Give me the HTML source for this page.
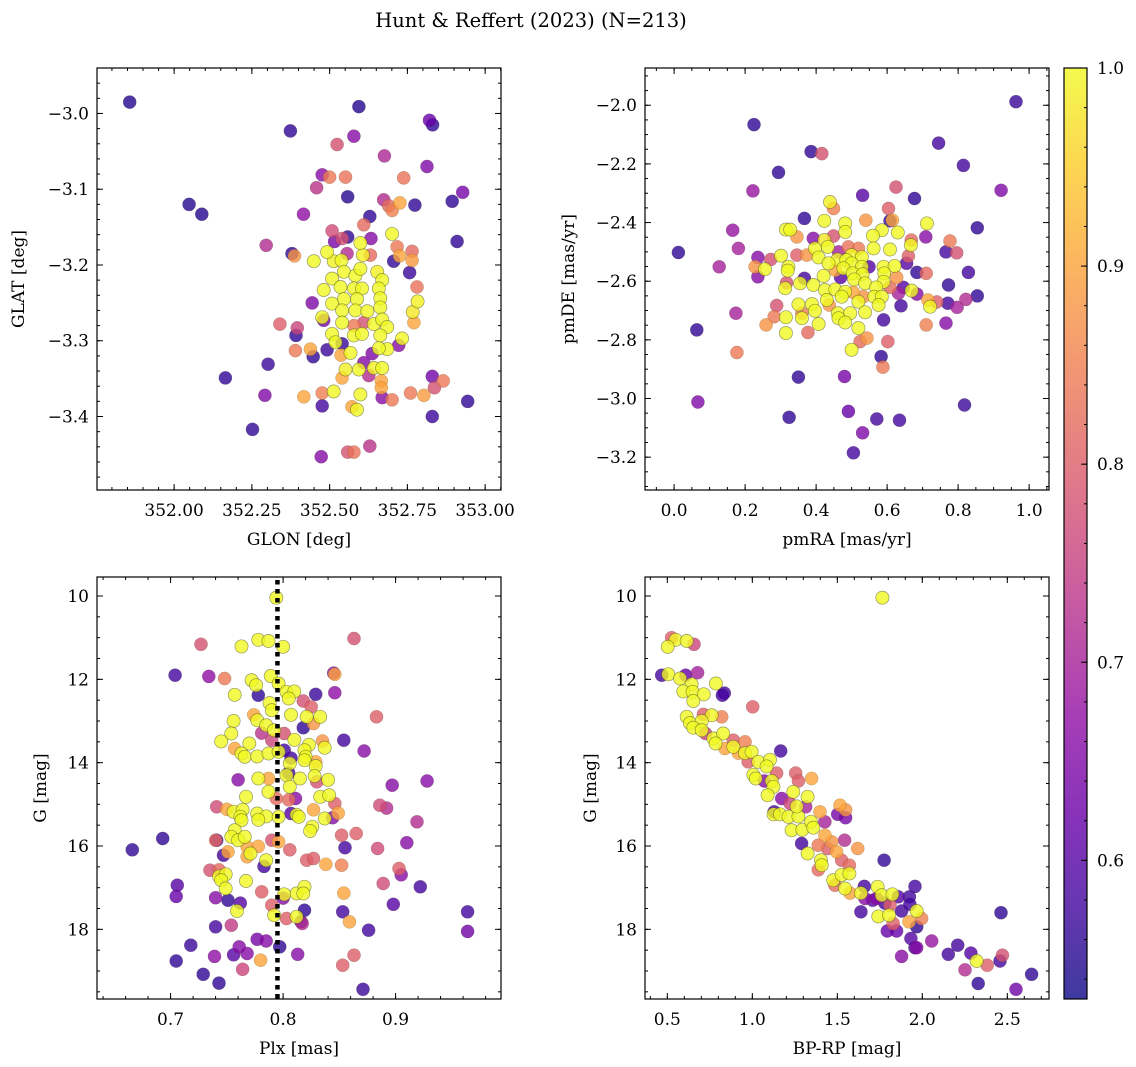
<!DOCTYPE html>
<html><head><meta charset="utf-8"><style>
html,body{margin:0;padding:0;background:#fff;}
svg{display:block;font-family:"DejaVu Serif","Liberation Serif",serif;}
</style></head><body>
<svg id="fig" width="1136" height="1067" viewBox="0 0 1136 1067" xmlns="http://www.w3.org/2000/svg">
<rect width="1136" height="1067" fill="#fff"/>
<text x="531" y="27" font-size="19.5" text-anchor="middle">Hunt &amp; Reffert (2023) (N=213)</text>
</svg>
<script>
// ---- data: [x, y, membership probability] ----
const glonGlat = [
[351.857,-2.985,.55],[352.594,-2.991,.55],[352.374,-3.023,.56],[352.821,-3.009,.62],[352.831,-3.015,.56],[352.578,-3.030,.66],[352.524,-3.041,.78],[352.676,-3.056,.71],[352.813,-3.070,.65],[352.476,-3.081,.66],[352.500,-3.084,.84],[352.551,-3.084,.83],[352.738,-3.085,.83],[352.458,-3.098,.73],[352.558,-3.110,.55],[352.928,-3.104,.64],[352.894,-3.116,.56],[352.048,-3.120,.55],[352.089,-3.133,.55],[352.674,-3.114,.72],[352.690,-3.122,.82],[352.701,-3.128,.85],[352.726,-3.118,.9],[352.774,-3.121,.56],[352.416,-3.133,.67],[352.629,-3.136,.56],[352.610,-3.147,.82],[352.508,-3.155,.77],[352.701,-3.159,1],[352.910,-3.169,.56],[352.296,-3.174,.72],
[352.540,-3.165,.78],[352.558,-3.163,.56],[352.516,-3.169,.64],[352.633,-3.165,.66],[352.379,-3.185,.56],[352.387,-3.188,.88],[352.599,-3.171,1],[352.607,-3.187,.99],[352.631,-3.187,.82],[352.449,-3.195,1],[352.492,-3.183,1],[352.513,-3.195,.99],[352.538,-3.194,1],[352.556,-3.185,.72],[352.717,-3.176,.84],[352.765,-3.182,.82],[352.725,-3.188,.9],[352.765,-3.194,.89],[352.706,-3.195,.56],[352.757,-3.210,.57],[352.781,-3.229,.83],[352.783,-3.248,.99],[352.767,-3.262,.98],[352.771,-3.276,.9],
[352.546,-3.209,1],[352.583,-3.214,1],[352.599,-3.205,1],[352.653,-3.209,.99],[352.508,-3.218,1],[352.669,-3.220,1],[352.535,-3.229,1],[352.578,-3.231,1],[352.604,-3.231,1],[352.658,-3.231,1],[352.481,-3.233,1],[352.546,-3.245,1],[352.588,-3.245,1],[352.663,-3.244,1],[352.508,-3.251,1],[352.540,-3.260,1],[352.583,-3.260,1],[352.621,-3.261,1],[352.663,-3.256,1],[352.476,-3.269,1],[352.540,-3.276,1],[352.642,-3.278,1],[352.669,-3.272,1],[352.685,-3.282,1],[352.508,-3.291,1],[352.578,-3.293,1],[352.604,-3.291,1],[352.663,-3.293,1],[352.519,-3.302,1],[352.733,-3.297,1],[352.685,-3.311,1],[352.567,-3.316,1],[352.658,-3.310,1],
[352.444,-3.250,.65],[352.481,-3.273,.64],[352.396,-3.283,.76],[352.392,-3.293,.56],[352.340,-3.278,.8],[352.390,-3.313,.84],[352.438,-3.311,.9],[352.447,-3.321,.56],[352.492,-3.312,.57],[352.540,-3.304,.57],[352.537,-3.319,.9],[352.637,-3.317,.65],[352.722,-3.306,.66],[352.610,-3.276,.78],[352.578,-3.280,.84],[352.302,-3.331,.57],[352.165,-3.349,.56],[352.292,-3.372,.65],[352.252,-3.417,.56],
[352.610,-3.329,.66],[352.551,-3.338,.99],[352.540,-3.349,.9],[352.594,-3.338,1],[352.626,-3.346,.72],[352.642,-3.336,.99],[352.669,-3.336,1],[352.666,-3.353,.9],[352.666,-3.362,.9],[352.669,-3.375,.66],[352.701,-3.378,.84],[352.417,-3.374,.9],[352.476,-3.369,.85],[352.513,-3.367,1],[352.476,-3.386,.58],[352.599,-3.371,1],[352.572,-3.387,.9],[352.588,-3.391,1],[352.830,-3.347,.63],[352.837,-3.362,.78],[352.865,-3.353,.84],[352.760,-3.369,.84],[352.803,-3.372,.89],[352.944,-3.380,.56],[352.830,-3.400,.57],[352.473,-3.453,.66],[352.558,-3.447,.78],[352.578,-3.447,.83],[352.629,-3.439,.73]
];
const pmraPmde = [
[0.963,-1.988,.57],[0.225,-2.066,.56],[0.745,-2.129,.58],[0.386,-2.158,.56],[0.416,-2.165,.78],[0.815,-2.205,.58],[0.294,-2.229,.56],[0.222,-2.292,.68],[0.921,-2.290,.65],[0.625,-2.279,.78],[0.531,-2.307,.6],[0.677,-2.318,.56],[0.439,-2.330,.99],[0.449,-2.352,.85],[0.367,-2.386,.56],[0.604,-2.352,.8],[0.423,-2.394,1],[0.540,-2.392,.88],[0.482,-2.403,1],[0.615,-2.392,.9],[0.608,-2.394,.56],[0.712,-2.403,1],[0.854,-2.418,.56],[0.315,-2.424,1],[0.327,-2.424,1],[0.165,-2.426,.68],[0.482,-2.432,1],[0.585,-2.426,1],[0.560,-2.445,1],[0.630,-2.434,1],[0.392,-2.454,.66],[0.346,-2.449,.88],[0.449,-2.446,.78],[0.709,-2.449,.66],[0.777,-2.463,.84],[0.668,-2.460,.82],[0.667,-2.477,1],[0.181,-2.488,.7],[0.012,-2.502,.56],[0.766,-2.500,.58],[0.796,-2.503,.78],
[0.423,-2.460,.98],[0.397,-2.488,1],[0.433,-2.483,1],[0.463,-2.500,.7],[0.491,-2.483,.83],[0.519,-2.488,.84],[0.500,-2.511,1],[0.529,-2.517,1],[0.562,-2.488,1],[0.608,-2.492,1],[0.301,-2.513,1],[0.346,-2.511,.8],[0.374,-2.511,.88],[0.407,-2.519,1],[0.460,-2.526,1],[0.485,-2.528,1],[0.435,-2.539,1],[0.500,-2.539,1],[0.529,-2.551,1],[0.549,-2.551,.6],[0.590,-2.551,1],[0.621,-2.548,1],[0.660,-2.514,.8],[0.655,-2.539,.6],[0.272,-2.526,.78],[0.236,-2.519,.66],[0.228,-2.551,.88],[0.256,-2.559,1],[0.127,-2.551,.7],[0.322,-2.551,1],[0.320,-2.564,1],[0.454,-2.562,.9],[0.477,-2.556,1],[0.503,-2.573,1],[0.531,-2.576,1],[0.592,-2.573,1],[0.627,-2.587,.88],[0.684,-2.570,.56],[0.710,-2.573,.82],[0.829,-2.570,.58],[0.236,-2.585,.66],[0.367,-2.590,.58],[0.421,-2.582,1],[0.469,-2.587,.6],[0.507,-2.594,1],[0.538,-2.607,1],[0.590,-2.602,1],[0.317,-2.605,.78],[0.355,-2.607,1],[0.392,-2.613,1],[0.313,-2.624,1],[0.773,-2.613,.56],[0.608,-2.621,.82],[0.569,-2.621,1],[0.646,-2.621,.6],[0.425,-2.630,1],[0.454,-2.628,1],[0.482,-2.636,1],[0.505,-2.638,.9],[0.533,-2.653,.88],[0.564,-2.653,1],[0.585,-2.653,1],[0.430,-2.664,1],[0.472,-2.653,1],[0.632,-2.641,.7],[0.669,-2.632,1],[0.684,-2.644,.66],[0.715,-2.664,.9],[0.740,-2.671,.8],[0.721,-2.687,1],[0.771,-2.675,.58],[0.822,-2.662,.72],[0.854,-2.650,.56],[0.797,-2.689,.7],[0.639,-2.684,.58],[0.576,-2.681,1],[0.437,-2.681,.88],[0.519,-2.670,1],[0.350,-2.679,1],[0.388,-2.678,1],[0.289,-2.683,.78],[0.360,-2.709,.85],[0.397,-2.701,1],[0.360,-2.726,1],[0.461,-2.709,1],[0.496,-2.709,1],[0.538,-2.706,1],[0.463,-2.726,1],[0.482,-2.741,1],[0.174,-2.709,.7],[0.282,-2.721,.84],[0.315,-2.723,1],[0.259,-2.749,.88],[0.407,-2.746,1],[0.590,-2.732,.58],[0.710,-2.749,.85],[0.766,-2.743,.66],[0.064,-2.766,.56],[0.519,-2.760,1],[0.315,-2.777,1],[0.377,-2.775,.82],[0.543,-2.794,.88],[0.524,-2.806,.82],[0.602,-2.806,.8],[0.500,-2.834,1],[0.583,-2.857,.56],[0.177,-2.843,.84],[0.588,-2.893,.84],[0.350,-2.927,.56],[0.480,-2.925,.64],[0.067,-3.012,.65],[0.818,-3.022,.57],[0.324,-3.064,.56],[0.491,-3.044,.62],[0.571,-3.070,.58],[0.635,-3.074,.58],[0.531,-3.117,.65],[0.505,-3.185,.58]
];
const plxG = [
[0.794,10.04,1],[0.863,11.02,.78],[0.727,11.16,.78],[0.763,11.21,1],[0.778,11.05,1],[0.787,11.08,1],[0.800,11.22,1],[0.704,11.90,.58],[0.734,11.93,.67],[0.748,11.98,.84],[0.845,11.85,.66],[0.846,11.88,.9],[0.772,12.02,1],[0.776,12.14,1],[0.789,11.92,1],[0.796,12.10,1],[0.803,12.30,1],[0.810,12.29,1],[0.805,12.46,1],[0.757,12.37,1],[0.778,12.38,.56],[0.829,12.36,.57],[0.846,12.32,.67],[0.788,12.57,1],[0.790,12.74,1],[0.818,12.52,.78],[0.825,12.66,.8],[0.774,12.85,.9],[0.777,12.98,1],[0.756,13.00,1],[0.807,12.85,1],[0.821,12.90,1],[0.833,12.90,1],[0.827,13.06,.88],[0.883,12.90,.8],[0.818,13.16,.56],[0.785,13.10,1],[0.792,13.22,1],[0.781,13.29,.73],[0.790,13.46,.76],[0.801,13.30,.78],[0.754,13.30,1],[0.745,13.49,1],[0.770,13.54,1],[0.810,13.45,1],[0.823,13.57,1],[0.835,13.48,.88],[0.837,13.64,1],[0.854,13.46,.58],[0.872,13.72,.66],
[0.757,13.66,.9],[0.763,13.78,1],[0.766,13.86,1],[0.777,13.85,1],[0.787,13.78,1],[0.796,13.74,1],[0.801,13.70,.58],[0.807,13.89,.58],[0.806,14.02,1],[0.819,13.70,1],[0.820,13.86,1],[0.819,13.94,1],[0.829,13.98,.9],[0.829,14.08,1],[0.760,14.41,.66],[0.778,14.38,1],[0.787,14.38,.9],[0.803,14.30,1],[0.805,14.25,.58],[0.815,14.38,1],[0.828,14.32,1],[0.840,14.41,1],[0.830,14.46,.78],[0.787,14.70,1],[0.806,14.58,1],[0.767,14.82,1],[0.794,14.86,.82],[0.805,14.89,.82],[0.811,14.86,.66],[0.833,14.82,1],[0.841,14.78,1],[0.846,14.98,.8],[0.741,15.06,.77],[0.750,15.12,.9],[0.756,15.18,1],[0.764,15.13,1],[0.762,15.30,1],[0.763,15.38,1],[0.777,15.22,1],[0.785,15.29,1],[0.778,15.37,1],[0.796,15.30,1],[0.807,15.22,.6],[0.812,15.25,1],[0.814,15.30,1],[0.827,15.13,.9],[0.837,15.34,1],[0.844,15.32,.66],[0.849,15.21,.9],[0.886,15.02,.77],[0.892,15.09,.72],[0.919,15.42,.72],[0.897,14.54,.66],[0.928,14.44,.66],
[0.826,15.54,1],[0.824,15.64,1],[0.757,15.62,1],[0.754,15.78,1],[0.760,15.86,1],[0.766,15.78,1],[0.693,15.82,.56],[0.666,16.09,.56],[0.740,15.86,.82],[0.741,15.86,.58],[0.790,15.86,.78],[0.796,15.90,.9],[0.852,15.74,.8],[0.865,15.70,.8],[0.855,16.04,.58],[0.910,15.92,.66],[0.884,16.06,.77],[0.806,16.09,.8],[0.751,16.14,.9],[0.747,16.22,.58],[0.768,16.02,.9],[0.778,16.01,.9],[0.771,16.18,1],[0.768,16.26,.9],[0.785,16.34,1],[0.783,16.49,.58],[0.821,16.34,.8],[0.827,16.30,.8],[0.838,16.44,.9],[0.852,16.46,.85],[0.903,16.54,.8],[0.905,16.69,.66],[0.735,16.58,.78],[0.743,16.57,.82],[0.743,16.73,1],[0.749,16.68,1],[0.745,16.82,1],[0.767,16.84,1],[0.889,16.90,.77],[0.706,16.94,.6],[0.705,17.21,.62],[0.749,17.02,1],[0.740,17.24,.66],[0.751,17.30,.56],[0.762,17.37,.6],[0.781,17.10,.8],[0.801,17.16,1],[0.812,17.14,1],[0.819,16.98,1],[0.818,17.14,1],[0.800,17.25,.66],[0.854,17.13,.9],[0.922,16.98,.58],[0.898,17.40,.6],
[0.759,17.56,1],[0.790,17.42,.8],[0.792,17.66,1],[0.803,17.74,.8],[0.812,17.70,1],[0.817,17.86,.72],[0.816,17.82,.58],[0.819,17.54,.56],[0.853,17.58,.58],[0.859,17.82,.9],[0.964,17.58,.58],[0.964,18.05,.63],[0.740,17.94,.58],[0.754,17.90,.74],[0.876,18.02,.58],[0.718,18.38,.57],[0.705,18.76,.56],[0.739,18.65,.67],[0.777,18.24,.64],[0.785,18.28,.66],[0.797,18.42,.56],[0.756,18.61,.6],[0.761,18.42,.66],[0.768,18.58,.66],[0.780,18.74,.9],[0.813,18.60,.66],[0.764,18.96,.76],[0.729,19.08,.56],[0.743,19.29,.56],[0.863,18.62,.8],[0.853,18.86,.8],[0.871,19.44,.57]
];
const bprpG = [
[1.765,10.04,1],[0.525,11.00,.8],[0.549,11.05,1],[0.502,11.22,1],[0.614,11.08,1],[0.657,11.16,.76],[0.467,11.90,.58],[0.506,11.88,1],[0.608,11.90,.62],[0.678,11.84,.7],[0.575,11.98,1],[0.643,12.12,1],[0.594,12.29,1],[0.649,12.30,1],[0.714,12.36,1],[0.653,12.52,1],[0.786,12.10,1],[0.835,12.33,.58],[0.824,12.38,.58],[1.002,12.66,.8],
[0.614,12.90,1],[0.712,12.84,.8],[0.761,12.86,1],[0.820,12.90,.85],[0.633,13.05,1],[0.702,13.00,1],[0.653,13.16,1],[0.702,13.22,1],[0.725,13.30,.76],[0.771,13.42,1],[0.829,13.30,1],[0.784,13.54,1],[0.839,13.66,.9],[0.888,13.46,.8],[0.888,13.62,1],[0.957,13.50,.85],[0.918,13.77,.9],[0.957,13.77,1],[0.996,13.74,1],[0.976,13.98,.8],[1.035,13.98,1],[1.104,13.93,1],[1.084,14.09,1],[1.167,13.72,.58],
[1.006,14.29,1],[1.020,14.38,1],[1.071,14.44,.66],[1.114,14.44,1],[1.143,14.25,.8],[1.124,14.58,1],[1.090,14.78,1],[1.255,14.25,.8],[1.271,14.44,.8],[1.349,14.38,.9],[1.241,14.70,1],[1.173,14.86,.66],[1.222,14.98,.76],[1.325,14.82,1],[1.314,15.06,.7],[1.427,15.42,.7],[1.398,15.18,.9],[1.129,15.18,.58],[1.125,15.24,1],[1.163,15.24,1],[1.212,15.30,1],[1.271,15.29,1],[1.231,15.62,1],[1.294,15.61,1],[1.345,15.42,1],[1.359,15.56,1],[1.261,15.05,1],[1.516,15.02,.9],[1.549,15.13,.88],[1.502,15.24,.64],[1.549,15.32,.64],
[1.427,15.74,.9],[1.467,15.90,.88],[1.388,15.98,.84],[1.443,16.06,.8],[1.496,16.14,.9],[1.543,15.86,.72],[1.620,16.06,.88],[1.290,15.94,.58],[1.325,16.18,1],[1.404,16.34,1],[1.408,16.46,1],[1.388,16.57,.82],[1.525,16.34,.8],[1.571,16.46,.82],[1.775,16.34,.56],[1.476,16.82,1],[1.525,16.69,1],[1.571,16.66,1],[1.486,16.94,.82],[1.545,17.02,1],[1.575,17.13,.9],[1.639,17.13,1],
[1.659,16.97,.58],[1.663,17.26,.66],[1.639,17.58,.58],[1.708,17.30,.6],[1.731,17.26,.66],[1.737,16.98,1],[1.761,17.18,1],[1.824,17.16,1],[1.810,17.42,.8],[1.859,17.22,.6],[1.780,17.37,.58],[1.741,17.69,1],[1.804,17.66,1],[1.878,17.56,.58],[1.924,17.22,.58],[1.957,16.97,.58],[1.927,17.40,.58],[1.967,17.56,1],[1.996,17.74,.85],[1.922,17.82,.9],[1.829,17.86,.8],[1.967,17.94,.56],[1.794,18.04,.62],[1.849,18.04,.62],
[1.933,18.22,.6],[1.957,18.44,.58],[1.967,18.44,.66],[2.055,18.28,.68],[1.878,18.65,.66],[2.153,18.60,.58],[2.208,18.38,.58],[2.286,18.57,.6],[2.320,18.76,1],[2.251,18.97,.72],[2.382,18.86,.8],[2.329,19.30,.56],[2.463,17.60,.56],[2.457,18.76,.58],[2.471,18.62,.78],[2.643,19.08,.56],[2.551,19.44,.63]
];
const tlXTicks = [352.0,352.25,352.5,352.75,353.0];
const tlXLabels = ["352.00","352.25","352.50","352.75","353.00"];
const tlYTicks = [-3.0,-3.1,-3.2,-3.3,-3.4];
const trXTicks = [0.0,0.2,0.4,0.6,0.8,1.0];
const trYTicks = [-2.0,-2.2,-2.4,-2.6,-2.8,-3.0,-3.2];
const blXTicks = [0.7,0.8,0.9];
const gTicks = [10,12,14,16,18];
const brXTicks = [0.5,1.0,1.5,2.0,2.5];
const cbTicks = [0.6,0.7,0.8,0.9,1.0];
const plxMean = 0.795;
const vmin = 0.530, vmax = 1.0;

const NS = "http://www.w3.org/2000/svg";
const svg = document.getElementById('fig');
const FS = 17;
function el(tag, attrs, parent){const e=document.createElementNS(NS,tag);for(const k in attrs)e.setAttribute(k,attrs[k]);(parent||svg).appendChild(e);return e;}
const plasma=[[13,8,135],[65,4,157],[106,0,168],[143,13,164],[177,42,144],[204,71,120],[225,100,98],[242,132,75],[252,166,54],[252,206,37],[240,249,33]];
function cmap(v){let t=(v-vmin)/(vmax-vmin);t=Math.max(0,Math.min(1,t))*10;const i=Math.min(9,Math.floor(t)),f=t-i;const a=plasma[i],b=plasma[i+1];return 'rgb('+a.map((c,k)=>Math.round(c+(b[k]-c)*f)).join(',')+')';}
function lin(d0,d1,r0,r1){return v=>r0+(v-d0)/(d1-d0)*(r1-r0);}
function fmt(v,dec){const s=Math.abs(v).toFixed(dec);return (v<0?'\u2212':'')+s;}

function panel(name,box,xd,yd,xt,xl,xminor,yt,yl,yminor,data,xlabel,ylabel,ylabelX){
  const g=el('g',{});
  
  
  const sx=lin(xd[0],xd[1],box[0],box[2]), sy=lin(yd[0],yd[1],box[1],box[3]);
  const pts=data.slice().sort((a,b)=>a[2]-b[2]);
  const pg=el('g',{},g);
  
  
  for(const d of pts){
    const c=el('circle',{cx:sx(d[0]).toFixed(1),cy:sy(d[1]).toFixed(1),r:6.6,fill:cmap(d[2]),'fill-opacity':0.8,stroke:'rgba(70,70,40,0.55)','stroke-width':d[2]>0.9?0.7:0.3},pg);
    
    
  }
  el('rect',{x:box[0],y:box[1],width:box[2]-box[0],height:box[3]-box[1],fill:'none',stroke:'#000','stroke-width':1.2},g);
  const tg=el('g',{stroke:'#000','stroke-width':1},g);
  function xtick(v,len){const x=sx(v);if(x<box[0]||x>box[2])return;el('line',{x1:x,x2:x,y1:box[3],y2:box[3]-len},tg);el('line',{x1:x,x2:x,y1:box[1],y2:box[1]+len},tg);}
  function ytick(v,len){const y=sy(v);if(y<box[1]||y>box[3])return;el('line',{x1:box[0],x2:box[0]+len,y1:y,y2:y},tg);el('line',{x1:box[2],x2:box[2]-len,y1:y,y2:y},tg);}
  const xs=Math.min(...xd),xe=Math.max(...xd),ys=Math.min(...yd),ye=Math.max(...yd);
  for(let k=Math.ceil(xs/xminor-1e-6);k*xminor<=xe;k++)xtick(k*xminor,3);
  for(let k=Math.ceil(ys/yminor-1e-6);k*yminor<=ye;k++)ytick(k*yminor,3);
  xt.forEach((v,i)=>{xtick(v,6);const t=el('text',{x:sx(v),y:box[3]+26,'font-size':FS,'text-anchor':'middle'},g);t.textContent=xl[i];});
  yt.forEach((v,i)=>{ytick(v,6);const t=el('text',{x:box[0]-8,y:sy(v)+6,'font-size':FS,'text-anchor':'end'},g);t.textContent=yl[i];});
  const xa=el('text',{x:(box[0]+box[2])/2,y:box[3]+55,'font-size':FS,'text-anchor':'middle'},g);xa.textContent=xlabel;
  
  
  const cy=(box[1]+box[3])/2;
  const ya=el('text',{x:ylabelX,y:cy,'font-size':FS,'text-anchor':'middle',transform:'rotate(-90 '+ylabelX+' '+cy+')'},g);ya.textContent=ylabel;
  
  
  return {sx,sy,g};
}

panel('glon-glat',[97,68,501,490],[351.752,353.051],[-2.940,-3.497],tlXTicks,tlXLabels,0.05,tlYTicks,tlYTicks.map(v=>fmt(v,1)),0.02,glonGlat,'GLON [deg]','GLAT [deg]',24);
panel('pmra-pmde',[645,68,1049,490],[-0.082,1.056],[-1.873,-3.312],trXTicks,trXTicks.map(v=>fmt(v,1)),0.05,trYTicks,trYTicks.map(v=>fmt(v,1)),0.05,pmraPmde,'pmRA [mas/yr]','pmDE [mas/yr]',574);
const bl=panel('plx-g',[97,577,501,999],[0.6346,0.9937],[9.544,19.672],blXTicks,blXTicks.map(v=>fmt(v,1)),0.02,gTicks,gTicks.map(v=>String(v)),0.5,plxG,'Plx [mas]','G [mag]',46);
panel('cmd',[645,577,1049,999],[0.3687,2.7453],[9.544,19.672],brXTicks,brXTicks.map(v=>fmt(v,1)),0.1,gTicks,gTicks.map(v=>String(v)),0.5,bprpG,'BP-RP [mag]','G [mag]',596);

// mean parallax dotted line
const ml=el('line',{x1:bl.sx(plxMean),x2:bl.sx(plxMean),y1:580,y2:999,stroke:'#000','stroke-width':4.5,'stroke-dasharray':'4.5 4.5'});



// colorbar
const cbBox=[1064,68,1087,999];
const defs=el('defs',{});
const lg=el('linearGradient',{id:'cbg',x1:0,y1:1,x2:0,y2:0},defs);
for(let i=0;i<=10;i++){el('stop',{offset:(i/10),'stop-color':'rgb('+plasma[i].join(',')+')'},lg);}
const cb=el('g',{});


el('rect',{x:cbBox[0],y:cbBox[1],width:cbBox[2]-cbBox[0],height:cbBox[3]-cbBox[1],fill:'url(#cbg)','fill-opacity':0.8},cb);
el('rect',{x:cbBox[0],y:cbBox[1],width:cbBox[2]-cbBox[0],height:cbBox[3]-cbBox[1],fill:'none',stroke:'#000','stroke-width':1.2},cb);
const cs=lin(vmin,vmax,cbBox[3],cbBox[1]);
for(let k=Math.ceil(vmin/0.02);k*0.02<=vmax+1e-9;k++){const y=cs(k*0.02);el('line',{x1:cbBox[2],x2:cbBox[2]-3,y1:y,y2:y,stroke:'#000'},cb);}
cbTicks.forEach(v=>{const y=cs(v);el('line',{x1:cbBox[2],x2:cbBox[2]-6,y1:y,y2:y,stroke:'#000'},cb);const t=el('text',{x:cbBox[2]+10,y:y+6,'font-size':FS},cb);t.textContent=v.toFixed(1);});
</script>
</body></html>
